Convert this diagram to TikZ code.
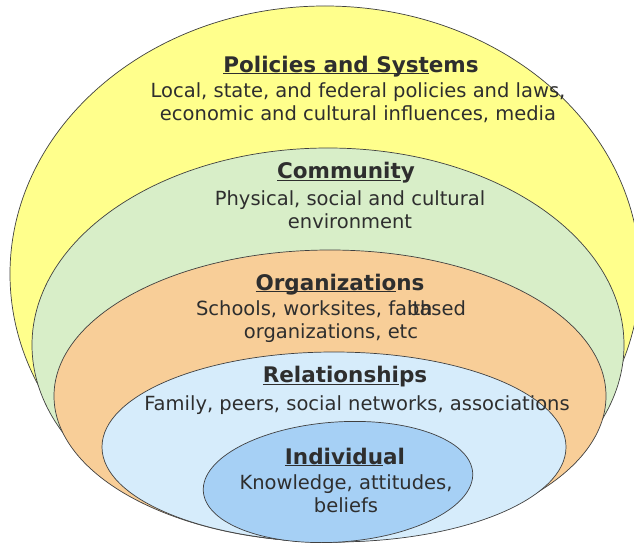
\documentclass[tikz,border=0pt]{standalone}
\usepackage{fontspec}
\setmainfont{DejaVu Sans}
\definecolor{policyfill}{HTML}{FFFF8C}
\definecolor{communityfill}{HTML}{D8EEC8}
\definecolor{orgfill}{HTML}{F8CE98}
\definecolor{relfill}{HTML}{D6ECFB}
\definecolor{indivfill}{HTML}{A6D0F5}
\definecolor{inktext}{HTML}{2E2E2E}
\newcommand{\lineunder}[1]{\underline{\smash{#1}}}
\begin{document}
\begin{tikzpicture}[x=1pt, y=1pt,
        layer/.style={draw=black!75, line width=0.7pt},
        title/.style={font=\fontsize{21.5}{24}\selectfont\bfseries, text=inktext},
        desc/.style={font=\fontsize{19.5}{23}\selectfont, text=inktext, align=center}
    ]
        \useasboundingbox (0,0) rectangle (634,544);
        \clip (0,0) rectangle (634,544);
        \fill[white] (0,0) rectangle (634,544);

        % nested levels, outermost first
        \draw[layer, fill=policyfill] (325,270) ellipse [x radius=315, y radius=268];
        \draw[layer, fill=communityfill] (328,199) ellipse [x radius=296, y radius=197];
        \draw[layer, fill=orgfill] (330,148) ellipse [x radius=276, y radius=146];
        \draw[layer, fill=relfill] (334,97) ellipse [x radius=232, y radius=95];
        \draw[layer, fill=indivfill, rotate around={4:(338,62)}] (338,62) ellipse [x radius=135, y radius=60];

        \node (policies) at (351,477) [title] {\lineunder{Policies and Syst}ems};
        \node (policiesdesc) at (358,441) [desc] {Local, state, and federal policies and laws,\\economic and cultural influences, media};

        \node (community) at (346,369) [title] {\lineunder{Communit}y};
        \node (communitydesc) at (350,334) [desc] {Physical, social and cultural\\environment};

        \node (organizations) at (340,259) [title] {\lineunder{Organizatio}ns};
        \node (organizationsdesc) at (331,222) [desc] {Schools, worksites, fa\rlap{ith}based\\organizations, etc};

        \node (relationships) at (345,165) [title] {\lineunder{Relationshi}ps};
        \node (relationshipsdesc) at (357,139) [desc] {Family, peers, social networks, associations};

        \node (individual) at (345,87) [title] {\lineunder{Individu}al};
        \node (individualdesc) at (346,50) [desc] {Knowledge, attitudes,\\beliefs};
    \end{tikzpicture}
\end{document}
